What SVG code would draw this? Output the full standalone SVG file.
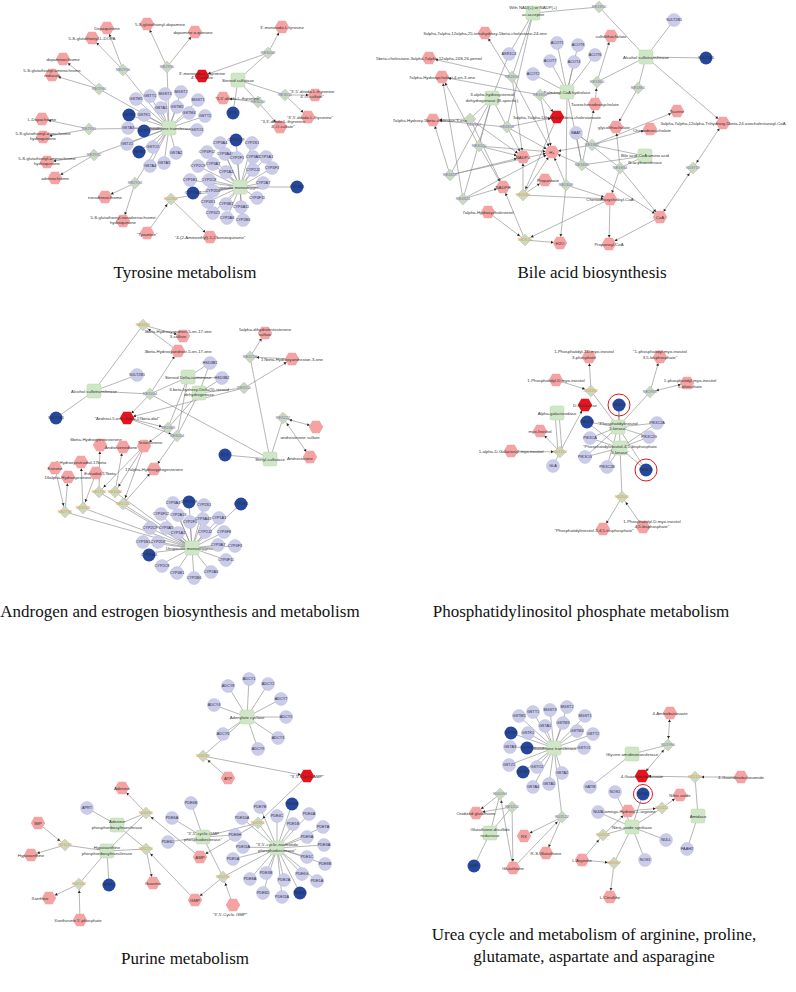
<svg xmlns="http://www.w3.org/2000/svg" xmlns:xlink="http://www.w3.org/1999/xlink" width="796" height="992" viewBox="0 0 796 992">
<style>
.m{fill:#f4a2a2}
.x{fill:#e8121f}
.g{fill:#cbcbea;stroke:#b3b3d6;stroke-width:.4}
.d{fill:#26489c}
.z{fill:#cfe7c6;stroke:#b8d4ab;stroke-width:.5}
.k{fill:#c9d8bf;stroke:#b0c0a6;stroke-width:.4}
.ring{fill:none;stroke:#e0161c;stroke-width:1}
text{font-family:"Liberation Sans",Arial,sans-serif}
.l{font-size:4.3px;fill:#333;text-anchor:middle}
.gl{font-size:3.8px;fill:#2a2a40;text-anchor:middle}
.r{font-size:4px;fill:#7d6fb8;text-anchor:middle}
.o{font-size:4px;fill:#e39a3b;text-anchor:middle}
.t{font-family:"Liberation Serif","Times New Roman",serif;font-size:17px;fill:#111;text-anchor:middle}
.e{stroke:#858585;stroke-width:.6;fill:none}
.a{marker-end:url(#ar)}
.b{marker-end:url(#ar);marker-start:url(#ar)}
</style>
<defs>
<path id="hx" d="M-3.6,-6.3H3.6L7.2,0L3.6,6.3H-3.6L-7.2,0Z"/>
<path id="dm" d="M0,-6L6,0L0,6L-6,0Z"/>
<rect id="sq" x="-7" y="-7" width="14" height="14" rx="2"/>
<circle id="ci" r="6.5"/>
<marker id="ar" viewBox="0 -2 12 4" refX="10.5" refY="0" markerWidth="12" markerHeight="4" markerUnits="userSpaceOnUse" orient="auto-start-reverse" overflow="visible">
<path d="M1.5,-1.5L4,0L1.5,1.5Z" fill="#222"/>
</marker>
</defs>
<rect width="796" height="992" fill="#fff"/>

<g id="connectors">
<!-- Tyrosine -->
<path class="e" d="M169,128L136,99M169,128L129,115M169,128L144,115M169,128L128,128M169,128L144,131M169,128L127,144M169,128L139,152M169,128L150,166M169,128L165,94M169,128L181,92M169,128L150,96M169,128L161,108M169,128L177,107M169,128L198,100M169,128L189,113M169,128L205,116M169,128L197,130M169,128L176,153M169,128L164,163M169,128L153,147M169,128L123,70M169,128L99,89M169,128L89,129M169,128L94,155M169,128L135,183M169,128L167,67"/>
<path class="e" d="M238,80L233,113M238,80L268,53M238,80L258,102M238,80L285,95"/>
<path class="e" d="M240,187L236,140M240,187L252,143M240,187L220,143M240,187L207,152M240,187L225,154M240,187L237,158M240,187L253,157M240,187L266,157M240,187L198,166M240,187L213,164M240,187L226,172M240,187L253,170M240,187L272,168M240,187L209,180M240,187L190,180M240,187L193,193M240,187L263,183M240,187L297,187M240,187L257,198M240,187L208,202M240,187L213,213M240,187L226,204M240,187L241,207M240,187L227,218M240,187L243,220M240,187L213,191M240,187L171,199"/>
<line class="e a" x1="123" y1="70" x2="107" y2="28"/><line class="e a" x1="123" y1="70" x2="92" y2="38"/>
<line class="e a" x1="167" y1="67" x2="147" y2="24"/><line class="e a" x1="167" y1="67" x2="195" y2="32"/>
<line class="e a" x1="99" y1="89" x2="63" y2="59"/><line class="e a" x1="99" y1="89" x2="52" y2="75"/>
<line class="e a" x1="89" y1="129" x2="42" y2="119"/><line class="e a" x1="89" y1="129" x2="43" y2="137"/>
<line class="e a" x1="94" y1="155" x2="47" y2="162"/><line class="e a" x1="94" y1="155" x2="55" y2="178"/>
<line class="e a" x1="135" y1="183" x2="105" y2="197"/><line class="e a" x1="135" y1="183" x2="123" y2="221"/>
<line class="e a" x1="268" y1="53" x2="282" y2="27"/><line class="e a" x1="268" y1="53" x2="202" y2="76"/>
<line class="e a" x1="258" y1="102" x2="223" y2="98"/><line class="e a" x1="258" y1="102" x2="280" y2="127"/>
<line class="e a" x1="285" y1="95" x2="315" y2="95"/><line class="e a" x1="285" y1="95" x2="308" y2="117"/>
<line class="e a" x1="147" y1="233" x2="171" y2="199"/><line class="e a" x1="171" y1="199" x2="210" y2="237"/>
<!-- Bile acid -->
<path class="e" d="M533,13L599,7M533,13L512,77M533,13L507,127M509,54L533,13M509,54L492,98M567,92L557,43M567,92L578,45M567,92L595,55M567,92L550,61M567,92L574,62M567,92L533,74M567,92L540,95M567,92L582,165M567,92L566,185M646,57L674,20M646,57L706,58M646,57L599,7M646,57L597,82M646,57L638,88M576,133L592,145M576,133L582,165M576,133L620,168M645,156L592,145M645,156L620,168M645,156L582,165M492,98L470,119M492,98L479,146M492,98L450,175M492,98L463,199M492,98L507,127"/>
<line class="e a" x1="646" y1="57" x2="723" y2="123"/>
<line class="e a" x1="597" y1="82" x2="611" y2="36"/><line class="e a" x1="595" y1="104" x2="597" y2="82"/>
<line class="e a" x1="638" y1="88" x2="616" y2="127"/>
<line class="e a" x1="592" y1="145" x2="677" y2="111"/><line class="e a" x1="592" y1="145" x2="650" y2="129"/><line class="e a" x1="592" y1="145" x2="552" y2="152"/>
<line class="e a" x1="620" y1="168" x2="610" y2="199"/><line class="e a" x1="620" y1="168" x2="660" y2="217"/><line class="e a" x1="620" y1="168" x2="616" y2="127"/>
<line class="e b" x1="693" y1="168" x2="723" y2="123"/><line class="e b" x1="693" y1="168" x2="660" y2="217"/>
<line class="e a" x1="582" y1="165" x2="595" y2="104"/><line class="e a" x1="582" y1="165" x2="552" y2="152"/><line class="e a" x1="582" y1="165" x2="660" y2="217"/>
<line class="e a" x1="566" y1="185" x2="552" y2="152"/><line class="e a" x1="566" y1="185" x2="610" y2="199"/><line class="e a" x1="566" y1="185" x2="560" y2="243"/>
<line class="e a" x1="512" y1="77" x2="485" y2="33"/><line class="e a" x1="512" y1="77" x2="429" y2="58"/><line class="e a" x1="512" y1="77" x2="523" y2="157"/><line class="e a" x1="512" y1="77" x2="552" y2="152"/>
<line class="e a" x1="540" y1="95" x2="442" y2="77"/><line class="e a" x1="540" y1="95" x2="557" y2="117"/><line class="e a" x1="540" y1="95" x2="552" y2="152"/>
<line class="e a" x1="470" y1="119" x2="433" y2="120"/><line class="e a" x1="470" y1="119" x2="523" y2="157"/><line class="e a" x1="470" y1="119" x2="503" y2="187"/>
<line class="e a" x1="507" y1="127" x2="557" y2="117"/><line class="e a" x1="507" y1="127" x2="552" y2="152"/><line class="e a" x1="507" y1="127" x2="523" y2="157"/><line class="e a" x1="507" y1="127" x2="433" y2="120"/>
<line class="e a" x1="479" y1="146" x2="523" y2="157"/><line class="e a" x1="479" y1="146" x2="552" y2="152"/><line class="e a" x1="479" y1="146" x2="503" y2="187"/><line class="e a" x1="479" y1="146" x2="442" y2="77"/>
<line class="e a" x1="450" y1="175" x2="433" y2="120"/><line class="e a" x1="450" y1="175" x2="523" y2="157"/><line class="e a" x1="450" y1="175" x2="552" y2="152"/>
<line class="e a" x1="463" y1="199" x2="442" y2="77"/><line class="e a" x1="463" y1="199" x2="503" y2="187"/><line class="e a" x1="463" y1="199" x2="552" y2="152"/>
<line class="e a" x1="523" y1="195" x2="545" y2="180"/><line class="e a" x1="523" y1="195" x2="523" y2="157"/><line class="e a" x1="523" y1="195" x2="610" y2="199"/><line class="e a" x1="523" y1="195" x2="552" y2="152"/><line class="e a" x1="557" y1="117" x2="523" y2="195"/>
<line class="e a" x1="525" y1="240" x2="560" y2="243"/><line class="e a" x1="525" y1="240" x2="503" y2="187"/><line class="e a" x1="488" y1="212" x2="525" y2="240"/><line class="e a" x1="610" y1="199" x2="525" y2="240"/>
<line class="e a" x1="610" y1="199" x2="609" y2="244"/><line class="e a" x1="660" y1="217" x2="609" y2="244"/>
<!-- Androgen -->
<path class="e" d="M94,391L137,375M94,391L56,418M94,391L143,325M94,391L150,394M188,377L210,363M188,377L222,378M199,393L210,363M199,393L222,378M188,377L168,428M188,377L177,436M199,393L168,428M199,393L177,436M199,393L244,388M188,377L150,394M270,459L225,455M270,459L250,357M270,459L283,418M270,459L150,394"/>
<path class="e" d="M192,548L173,503M192,548L189,502M192,548L204,505M192,548L241,504M192,548L161,514M192,548L178,515M192,548L190,522M192,548L203,519M192,548L219,518M192,548L166,528M192,548L178,533M192,548L205,532M192,548L224,532M192,548L158,542M192,548L218,545M192,548L150,528M192,548L143,542M192,548L149,553M192,548L160,565M192,548L176,572M192,548L194,578M192,548L211,572M192,548L226,560M192,548L234,546M192,548L99,492M192,548L115,492M192,548L123,504M192,548L65,512M192,548L83,508"/>
<line class="e a" x1="143" y1="325" x2="183" y2="336"/><line class="e a" x1="178" y1="351" x2="143" y2="325"/>
<line class="e a" x1="150" y1="394" x2="178" y2="351"/><line class="e a" x1="150" y1="394" x2="127" y2="418"/>
<line class="e a" x1="244" y1="388" x2="292" y2="359"/><line class="e a" x1="244" y1="388" x2="127" y2="418"/>
<line class="e a" x1="250" y1="357" x2="265" y2="333"/><line class="e a" x1="292" y1="359" x2="250" y2="357"/>
<line class="e b" x1="283" y1="418" x2="316" y2="427"/><line class="e b" x1="283" y1="418" x2="310" y2="457"/>
<line class="e a" x1="127" y1="418" x2="168" y2="428"/><line class="e a" x1="168" y1="428" x2="144" y2="446"/><line class="e a" x1="127" y1="418" x2="177" y2="436"/><line class="e a" x1="177" y1="436" x2="154" y2="469"/>
<line class="e a" x1="144" y1="446" x2="99" y2="492"/><line class="e a" x1="99" y1="492" x2="100" y2="445"/><line class="e a" x1="144" y1="446" x2="115" y2="492"/><line class="e a" x1="115" y1="492" x2="123" y2="447"/>
<line class="e a" x1="144" y1="446" x2="123" y2="504"/><line class="e a" x1="123" y1="504" x2="154" y2="469"/>
<line class="e a" x1="55" y1="468" x2="65" y2="512"/><line class="e a" x1="65" y1="512" x2="68" y2="477"/>
<line class="e a" x1="96" y1="473" x2="83" y2="508"/><line class="e a" x1="83" y1="508" x2="81" y2="462"/>
<!-- Phosphatidylinositol -->
<path class="e" d="M618,427L591,391M618,427L650,392M618,427L619,405M618,427L587,422M618,427L657,423M618,427L649,437M618,427L590,438M618,427L585,457M618,427L607,467M618,427L646,470M620,448L619,405M620,448L587,422M620,448L590,438M620,448L585,457M620,448L607,467M620,448L646,470M620,448L657,423M620,448L649,437M620,448L622,497M555,413L558,452M559,413L562,452M553,466L560,452"/>
<line class="e a" x1="556" y1="380" x2="591" y2="391"/><line class="e a" x1="591" y1="391" x2="589" y2="357"/>
<line class="e a" x1="650" y1="392" x2="660" y2="357"/><line class="e b" x1="650" y1="392" x2="687" y2="383"/>
<line class="e a" x1="511" y1="451" x2="560" y2="452"/><line class="e a" x1="560" y1="452" x2="540" y2="431"/><line class="e a" x1="560" y1="452" x2="585" y2="405"/>
<line class="e a" x1="622" y1="497" x2="603" y2="529"/><line class="e a" x1="643" y1="527" x2="622" y2="497"/>
<!-- Purine -->
<path class="e" d="M247,717L249,679M247,717L268,684M247,717L228,686M247,717L281,699M247,717L214,705M247,717L286,717M247,717L223,734M247,717L278,738M247,717L258,749M247,717L203,756"/>
<path class="e" d="M277,848L292,804M277,848L260,807M277,848L309,814M277,848L242,818M277,848L277,816M277,848L293,824M277,848L323,827M277,848L307,837M277,848L243,847M277,848L324,845M277,848L307,857M277,848L233,859M277,848L325,864M277,848L250,879M277,848L266,873M277,848L284,880M277,848L302,874M277,848L317,881M277,848L263,893M277,848L282,897M277,848L300,893M277,848L258,823M277,848L223,877M203,837L172,818M203,837L191,803M203,837L168,842M203,837L235,835M203,837L258,823M203,837L223,877"/>
<path class="e" d="M117,825L87,808M117,825L146,813M117,825L146,849M107,851L65,845M107,851L146,849M107,851L79,884M107,851L109,885M107,851L146,813"/>
<line class="e a" x1="228" y1="778" x2="203" y2="756"/><line class="e a" x1="203" y1="756" x2="307" y2="776"/>
<line class="e a" x1="307" y1="776" x2="258" y2="823"/><line class="e a" x1="258" y1="823" x2="200" y2="857"/>
<line class="e a" x1="233" y1="905" x2="223" y2="877"/><line class="e a" x1="223" y1="877" x2="195" y2="900"/>
<line class="e a" x1="200" y1="857" x2="146" y2="813"/><line class="e a" x1="146" y1="813" x2="122" y2="788"/>
<line class="e a" x1="38" y1="823" x2="65" y2="845"/><line class="e a" x1="65" y1="845" x2="31" y2="855"/>
<line class="e a" x1="195" y1="900" x2="146" y2="849"/><line class="e a" x1="146" y1="849" x2="153" y2="883"/>
<line class="e a" x1="79" y1="884" x2="49" y2="898"/><line class="e a" x1="80" y1="920" x2="79" y2="884"/>
<!-- Urea -->
<path class="e" d="M554,748L519,716M554,748L533,712M554,748L550,710M554,748L567,707M554,748L585,716M554,748L545,726M554,748L563,723M554,748L511,733M554,748L528,733M554,748L577,731M554,748L593,734M554,748L510,747M554,748L527,748M554,748L584,748M554,748L509,765M554,748L537,767M554,748L523,772M554,748L562,773M554,748L549,784M554,748L533,787M554,748L562,817M490,833L500,794M490,833L512,807M490,833L474,866"/>
<path class="e" d="M590,787L632,754M632,754L668,745M698,816L695,777M698,816L687,849M632,827L615,792M632,827L643,794M632,827L598,812M632,827L666,840M632,827L645,860M632,827L662,808M632,827L603,835M632,827L614,863"/>
<line class="e a" x1="500" y1="794" x2="476" y2="813"/><line class="e a" x1="513" y1="868" x2="500" y2="794"/>
<line class="e a" x1="512" y1="807" x2="476" y2="813"/><line class="e a" x1="512" y1="807" x2="513" y2="868"/>
<line class="e a" x1="562" y1="817" x2="524" y2="836"/><line class="e a" x1="562" y1="817" x2="546" y2="853"/><line class="e a" x1="513" y1="868" x2="562" y2="817"/>
<line class="e b" x1="668" y1="745" x2="670" y2="713"/><line class="e b" x1="668" y1="745" x2="642" y2="776"/>
<line class="e a" x1="741" y1="777" x2="695" y2="777"/><line class="e a" x1="695" y1="777" x2="642" y2="776"/>
<line class="e a" x1="582" y1="860" x2="603" y2="835"/><line class="e a" x1="603" y1="835" x2="628" y2="811"/>
<line class="e a" x1="628" y1="811" x2="662" y2="808"/><line class="e a" x1="662" y1="808" x2="680" y2="795"/>
<line class="e a" x1="582" y1="860" x2="614" y2="863"/><line class="e a" x1="614" y1="863" x2="610" y2="897"/>
</g>

<!-- ===== Tyrosine metabolism nodes ===== -->
<g id="tyr-gst"><use href="#sq" class="z" x="169" y="128"/><text class="l" x="169" y="129.5">Glutathione transferase</text></g>
<g id="tyr-sts-enz"><use href="#sq" class="z" x="238" y="80"/><text class="l" x="238" y="81.5">Steroid sulfatase</text></g>
<g id="tyr-mono"><use href="#sq" class="z" x="240" y="187"/><text class="l" x="240" y="188.5">Unspecific monooxygenase</text></g>
<g id="tyr-genes">
<g id="tg1"><use href="#ci" class="g" x="136" y="99"/><text class="gl" x="136" y="100.3">GSTM5</text></g>
<g id="tg2"><use href="#ci" class="d" x="129" y="115"/><text class="gl" x="129" y="116.3">GSTM1</text></g>
<g id="tg3"><use href="#ci" class="g" x="144" y="115"/><text class="gl" x="144" y="116.3">GSTK1</text></g>
<g id="tg4"><use href="#ci" class="g" x="128" y="128"/><text class="gl" x="128" y="129.3">GSTA3</text></g>
<g id="tg5"><use href="#ci" class="d" x="144" y="131"/><text class="gl" x="144" y="132.3">GSTP1</text></g>
<g id="tg6"><use href="#ci" class="g" x="127" y="144"/><text class="gl" x="127" y="145.3">GSTZ1</text></g>
<g id="tg7"><use href="#ci" class="d" x="139" y="152"/><text class="gl" x="139" y="153.3">GSTM3</text></g>
<g id="tg8"><use href="#ci" class="g" x="150" y="166"/><text class="gl" x="150" y="167.3">GSTA4</text></g>
<g id="tg9"><use href="#ci" class="g" x="165" y="94"/><text class="gl" x="165" y="95.3">MGST3</text></g>
<g id="tg10"><use href="#ci" class="g" x="181" y="92"/><text class="gl" x="181" y="93.3">MGST2</text></g>
<g id="tg11"><use href="#ci" class="g" x="150" y="96"/><text class="gl" x="150" y="97.3">GSTT1</text></g>
<g id="tg12"><use href="#ci" class="g" x="161" y="108"/><text class="gl" x="161" y="109.3">GSTA1</text></g>
<g id="tg13"><use href="#ci" class="g" x="177" y="107"/><text class="gl" x="177" y="108.3">GSTM2</text></g>
<g id="tg14"><use href="#ci" class="g" x="198" y="100"/><text class="gl" x="198" y="101.3">MGST1</text></g>
<g id="tg15"><use href="#ci" class="g" x="189" y="113"/><text class="gl" x="189" y="114.3">GSTM4</text></g>
<g id="tg16"><use href="#ci" class="g" x="205" y="116"/><text class="gl" x="205" y="117.3">GSTT2</text></g>
<g id="tg17"><use href="#ci" class="g" x="197" y="130"/><text class="gl" x="197" y="131.3">GSTO1</text></g>
<g id="tg18"><use href="#ci" class="g" x="176" y="153"/><text class="gl" x="176" y="154.3">GSTA2</text></g>
<g id="tg19"><use href="#ci" class="g" x="164" y="163"/><text class="gl" x="164" y="164.3">GSTA5</text></g>
<g id="tg20"><use href="#ci" class="g" x="153" y="147"/><text class="gl" x="153" y="148.3">GSTO2</text></g>
<g id="tg21"><use href="#ci" class="d" x="233" y="113"/><text class="gl" x="233" y="114.3">STS</text></g>
<g id="tc1"><use href="#ci" class="d" x="236" y="140"/><text class="gl" x="236" y="141.3">CYP2C19</text></g>
<g id="tc2"><use href="#ci" class="g" x="252" y="143"/><text class="gl" x="252" y="144.3">CYP2S1</text></g>
<g id="tc3"><use href="#ci" class="g" x="220" y="143"/><text class="gl" x="220" y="144.3">CYP3A4</text></g>
<g id="tc4"><use href="#ci" class="g" x="207" y="152"/><text class="gl" x="207" y="153.3">CYP4F12</text></g>
<g id="tc5"><use href="#ci" class="g" x="225" y="154"/><text class="gl" x="225" y="155.3">CYP3A43</text></g>
<g id="tc6"><use href="#ci" class="g" x="237" y="158"/><text class="gl" x="237" y="159.3">CYP2F1</text></g>
<g id="tc7"><use href="#ci" class="g" x="253" y="157"/><text class="gl" x="253" y="158.3">CYP3A5</text></g>
<g id="tc8"><use href="#ci" class="g" x="266" y="157"/><text class="gl" x="266" y="158.3">CYP1A1</text></g>
<g id="tc9"><use href="#ci" class="g" x="198" y="166"/><text class="gl" x="198" y="167.3">CYP2C9</text></g>
<g id="tc10"><use href="#ci" class="g" x="213" y="164"/><text class="gl" x="213" y="165.3">CYP3A7</text></g>
<g id="tc11"><use href="#ci" class="g" x="226" y="172"/><text class="gl" x="226" y="173.3">CYP1A2</text></g>
<g id="tc12"><use href="#ci" class="g" x="253" y="170"/><text class="gl" x="253" y="171.3">CYP2J2</text></g>
<g id="tc13"><use href="#ci" class="g" x="272" y="168"/><text class="gl" x="272" y="169.3">CYP4F3</text></g>
<g id="tc14"><use href="#ci" class="g" x="209" y="180"/><text class="gl" x="209" y="181.3">CYP2C8</text></g>
<g id="tc15"><use href="#ci" class="g" x="190" y="180"/><text class="gl" x="190" y="181.3">CYP1B1</text></g>
<g id="tc16"><use href="#ci" class="d" x="193" y="193"/><text class="gl" x="193" y="194.3">CYP19A1</text></g>
<g id="tc17"><use href="#ci" class="g" x="263" y="183"/><text class="gl" x="263" y="184.3">CYP2A7</text></g>
<g id="tc18"><use href="#ci" class="d" x="297" y="187"/><text class="gl" x="297" y="188.3">CYP2E1</text></g>
<g id="tc19"><use href="#ci" class="g" x="257" y="198"/><text class="gl" x="257" y="199.3">CYP4F11</text></g>
<g id="tc20"><use href="#ci" class="g" x="208" y="202"/><text class="gl" x="208" y="203.3">CYP4X1</text></g>
<g id="tc21"><use href="#ci" class="g" x="213" y="213"/><text class="gl" x="213" y="214.3">CYP4Z1</text></g>
<g id="tc22"><use href="#ci" class="g" x="226" y="204"/><text class="gl" x="226" y="205.3">CYP4B1</text></g>
<g id="tc23"><use href="#ci" class="g" x="241" y="207"/><text class="gl" x="241" y="208.3">CYP4A11</text></g>
<g id="tc24"><use href="#ci" class="g" x="227" y="218"/><text class="gl" x="227" y="219.3">CYP2A6</text></g>
<g id="tc25"><use href="#ci" class="g" x="243" y="220"/><text class="gl" x="243" y="221.3">CYP2B6</text></g>
<g id="tc26"><use href="#ci" class="g" x="213" y="191"/><text class="gl" x="213" y="192.3">CYP2D6</text></g>
</g>
<g id="tyr-rx">
<g id="tr1"><use href="#dm" class="k" x="123" y="70"/><text class="r" x="123" y="71.4">RE2936</text></g>
<g id="tr2"><use href="#dm" class="k" x="167" y="67"/><text class="r" x="167" y="68.4">RE2935</text></g>
<g id="tr3"><use href="#dm" class="k" x="99" y="89"/><text class="r" x="99" y="90.4">RE2930</text></g>
<g id="tr4"><use href="#dm" class="k" x="89" y="129"/><text class="r" x="89" y="130.4">RE2931</text></g>
<g id="tr5"><use href="#dm" class="k" x="94" y="155"/><text class="r" x="94" y="156.4">RE2932</text></g>
<g id="tr6"><use href="#dm" class="k" x="135" y="183"/><text class="r" x="135" y="184.4">RE2933</text></g>
<g id="tr7"><use href="#dm" class="k" x="268" y="53"/><text class="r" x="268" y="54.4">RE3008</text></g>
<g id="tr8"><use href="#dm" class="k" x="258" y="102"/><text class="r" x="258" y="103.4">RE3010</text></g>
<g id="tr9"><use href="#dm" class="k" x="285" y="95"/><text class="r" x="285" y="96.4">RE3011</text></g>
<g id="tr10"><use href="#dm" class="k" x="171" y="199"/><text class="o" x="171" y="200.4">R02382</text></g>
</g>
<g id="tyr-met">
<g id="tm1"><use href="#hx" class="m" x="107" y="28"/><text class="l" x="107" y="29.5">Dopaquinone</text></g>
<g id="tm2"><use href="#hx" class="m" x="92" y="38"/><text class="l" x="92" y="39.5">5-S-glutathionyl-L-DOPA</text></g>
<g id="tm3"><use href="#hx" class="m" x="147" y="24"/><text class="l" x="160" y="25.5">5-S-glutathionyl-dopamine</text></g>
<g id="tm4"><use href="#hx" class="m" x="195" y="32"/><text class="l" x="193" y="33.5">dopamine o-quinone</text></g>
<g id="tm5"><use href="#hx" class="m" x="63" y="59"/><text class="l" x="63" y="60.5">dopaminochrome</text></g>
<g id="tm6"><use href="#hx" class="m" x="52" y="75"/><text class="l" x="52" y="72">5-S-glutathionyl-aminochrome<tspan x="52" dy="5.3">reduced</tspan></text></g>
<g id="tm7"><use href="#hx" class="m" x="42" y="119"/><text class="l" x="42" y="120.5">L-Dopachrome</text></g>
<g id="tm8"><use href="#hx" class="m" x="43" y="137"/><text class="l" x="43" y="135">5-S-glutathionyl-dopachrome<tspan x="43" dy="5.3">hydroquinone</tspan></text></g>
<g id="tm9"><use href="#hx" class="m" x="47" y="162"/><text class="l" x="47" y="160">5-S-glutathionyl-aminochrome<tspan x="47" dy="5.3">hydroquinone</tspan></text></g>
<g id="tm10"><use href="#hx" class="m" x="55" y="178"/><text class="l" x="55" y="179.5">adrenochrome</text></g>
<g id="tm11"><use href="#hx" class="m" x="105" y="197"/><text class="l" x="105" y="198.5">noradrenochrome</text></g>
<g id="tm12"><use href="#hx" class="m" x="123" y="221"/><text class="l" x="123" y="219">5-S-glutathionyl-noradrenochrome<tspan x="123" dy="5.3">hydroquinone</tspan></text></g>
<g id="tm13"><use href="#hx" class="m" x="282" y="27"/><text class="l" x="282" y="28.5">3'-monoiodo-L-tyrosine</text></g>
<g id="tm14"><use href="#hx" class="x" x="202" y="76"/><text class="l" x="202" y="74.5">3'-monoiodo-L-thyronine<tspan x="202" dy="4.8">4'-O-sulfate</tspan></text></g>
<g id="tm15"><use href="#hx" class="m" x="223" y="98"/><text class="l" x="238" y="99.5">"3,3'-diiodo-L-thyronine"</text></g>
<g id="tm16"><use href="#hx" class="m" x="308" y="117"/><text class="l" x="310" y="118.5">"3',5'-diiodo-L-thyronine"</text></g>
<g id="tm17"><use href="#hx" class="m" x="280" y="127"/><text class="l" x="283" y="123">"3,3'-diiodo-L-thyronine<tspan x="283" dy="5">4'-O-sulfate"</tspan></text></g>
<g id="tm18"><use href="#hx" class="m" x="315" y="95"/><text class="l" x="312" y="93">"3',5'-diiodo-L-thyronine<tspan x="312" dy="5">4'-O-sulfate"</tspan></text></g>
<g id="tm19"><use href="#hx" class="m" x="147" y="233"/><text class="l" x="147" y="236">"Tyramine"</text></g>
<g id="tm20"><use href="#hx" class="m" x="210" y="237"/><text class="l" x="210" y="239">"4-(2-Aminoethyl)-1,2-benzoquinone"</text></g>
</g>

<!-- ===== Bile acid biosynthesis nodes ===== -->
<g id="bile-enz">
<g id="be1"><use href="#sq" class="z" x="533" y="13"/><text class="l" x="533" y="9">With NAD(+) or NADP(+)<tspan x="533" dy="6.5">as acceptor</tspan></text></g>
<g id="be2"><use href="#sq" class="z" x="492" y="98"/><text class="l" x="492" y="95.5">3-alpha-hydroxysteroid<tspan x="492" dy="6">dehydrogenase (B-specific)</tspan></text></g>
<g id="be3"><use href="#sq" class="z" x="567" y="92"/><text class="l" x="567" y="93.5">Palmitoyl-CoA hydrolase</text></g>
<g id="be4"><use href="#sq" class="z" x="646" y="57"/><text class="l" x="646" y="58.5">Alcohol sulfotransferase</text></g>
<g id="be5"><use href="#sq" class="z" x="645" y="156"/><text class="l" x="645" y="157">Bile acid-CoA:amino acid<tspan x="645" dy="7">N-acyltransferase</tspan></text></g>
</g>
<g id="bile-genes">
<g id="bg1"><use href="#ci" class="g" x="509" y="54"/><text class="gl" x="509" y="55.3">AKR1C4</text></g>
<g id="bg2"><use href="#ci" class="g" x="557" y="43"/><text class="gl" x="557" y="44.3">ACOT1</text></g>
<g id="bg3"><use href="#ci" class="g" x="578" y="45"/><text class="gl" x="578" y="46.3">ACOT8</text></g>
<g id="bg4"><use href="#ci" class="g" x="595" y="55"/><text class="gl" x="595" y="56.3">ACOT6</text></g>
<g id="bg5"><use href="#ci" class="g" x="550" y="61"/><text class="gl" x="550" y="62.3">ACOT7</text></g>
<g id="bg6"><use href="#ci" class="g" x="574" y="62"/><text class="gl" x="574" y="63.3">ACOT4</text></g>
<g id="bg7"><use href="#ci" class="g" x="533" y="74"/><text class="gl" x="533" y="75.3">ACOT2</text></g>
<g id="bg8"><use href="#ci" class="g" x="674" y="20"/><text class="gl" x="674" y="21.3">SULT2B1</text></g>
<g id="bg9"><use href="#ci" class="d" x="706" y="58"/><text class="gl" x="706" y="59.3">SULT2A1</text></g>
<g id="bg10"><use href="#ci" class="g" x="576" y="133"/><text class="gl" x="576" y="134.3">BAAT</text></g>
</g>
<g id="bile-rx">
<g id="br1"><use href="#dm" class="k" x="599" y="7"/><text class="r" x="599" y="8.4">RE1850</text></g>
<g id="br2"><use href="#dm" class="k" x="512" y="77"/><text class="r" x="512" y="78.4">RE2690</text></g>
<g id="br3"><use href="#dm" class="k" x="540" y="95"/><text class="r" x="540" y="96.4">RE1810</text></g>
<g id="br4"><use href="#dm" class="k" x="470" y="119"/><text class="r" x="474" y="126">RE4817</text></g>
<g id="br5"><use href="#dm" class="k" x="507" y="127"/><text class="r" x="507" y="128.4">RE4818</text></g>
<g id="br6"><use href="#dm" class="k" x="479" y="146"/><text class="r" x="479" y="147.4">RE4020</text></g>
<g id="br7"><use href="#dm" class="k" x="450" y="175"/><text class="r" x="450" y="176.4">RE4819</text></g>
<g id="br8"><use href="#dm" class="k" x="523" y="195"/><text class="o" x="523" y="196.4">RE2630</text></g>
<g id="br9"><use href="#dm" class="k" x="463" y="199"/><text class="r" x="463" y="200.4">RE4824</text></g>
<g id="br10"><use href="#dm" class="k" x="525" y="240"/><text class="o" x="525" y="241.4">RE2620</text></g>
<g id="br11"><use href="#dm" class="k" x="597" y="82"/><text class="r" x="597" y="83.4">RE1860</text></g>
<g id="br12"><use href="#dm" class="k" x="638" y="88"/><text class="r" x="638" y="89.4">RE1861</text></g>
<g id="br13"><use href="#dm" class="k" x="592" y="145"/><text class="r" x="592" y="146.4">RE1862</text></g>
<g id="br14"><use href="#dm" class="k" x="582" y="165"/><text class="r" x="582" y="166.4">RE1835</text></g>
<g id="br15"><use href="#dm" class="k" x="620" y="168"/><text class="r" x="620" y="169.4">RE1834</text></g>
<g id="br16"><use href="#dm" class="k" x="693" y="168"/><text class="r" x="693" y="169.4">R03719</text></g>
<g id="br17"><use href="#dm" class="k" x="566" y="185"/><text class="r" x="566" y="186.4">RE2648</text></g>
</g>
<g id="bile-met">
<g id="bm1"><use href="#hx" class="m" x="485" y="33"/><text class="l" x="485" y="34.5">3alpha,7alpha,12alpha,25-tetrahydroxy-5beta-cholestane-24-one</text></g>
<g id="bm2"><use href="#hx" class="m" x="429" y="58"/><text class="l" x="429" y="59.5">5beta-cholestane-3alpha,7alpha,12alpha,24S,26-pentol</text></g>
<g id="bm3"><use href="#hx" class="m" x="442" y="77"/><text class="l" x="442" y="78.5">7alpha-Hydroxycholest-4-en-3-one</text></g>
<g id="bm4"><use href="#hx" class="x" x="557" y="117"/><text class="l" x="557" y="118.5">3alpha,7alpha-Dihydroxy-5beta-cholestanoate</text></g>
<g id="bm5"><use href="#hx" class="m" x="433" y="120"/><text class="l" x="430" y="121.5">7alpha-Hydroxy-5beta-cholestan-3-one</text></g>
<g id="bm6"><use href="#hx" class="m" x="523" y="157"/><text class="l" x="523" y="158.5">NADP+</text></g>
<g id="bm7"><use href="#hx" class="m" x="552" y="152"/><text class="l" x="552" y="153.5">H+</text></g>
<g id="bm8"><use href="#hx" class="m" x="503" y="187"/><text class="l" x="503" y="188.5">NADPH</text></g>
<g id="bm9"><use href="#hx" class="m" x="545" y="180"/><text class="l" x="548" y="181.5">Propanoate</text></g>
<g id="bm10"><use href="#hx" class="m" x="488" y="212"/><text class="l" x="488" y="213.5">7alpha-Hydroxycholesterol</text></g>
<g id="bm11"><use href="#hx" class="m" x="560" y="243"/><text class="l" x="560" y="244.5">H2O</text></g>
<g id="bm12"><use href="#hx" class="m" x="609" y="244"/><text class="l" x="609" y="245.5">Propanoyl-CoA</text></g>
<g id="bm13"><use href="#hx" class="m" x="611" y="36"/><text class="l" x="611" y="37.5">sulfolithocholate</text></g>
<g id="bm14"><use href="#hx" class="m" x="595" y="104"/><text class="l" x="595" y="105.5">Taurochenodeoxycholate</text></g>
<g id="bm15"><use href="#hx" class="m" x="677" y="111"/><text class="l" x="677" y="112.5">Taurine</text></g>
<g id="bm16"><use href="#hx" class="m" x="723" y="123"/><text class="l" x="723" y="124.5">3alpha,7alpha,12alpha-Trihydroxy-5beta-24-oxocholestanoyl-CoA</text></g>
<g id="bm17"><use href="#hx" class="m" x="616" y="127"/><text class="l" x="614" y="128.5">glycolithocholate</text></g>
<g id="bm18"><use href="#hx" class="m" x="650" y="129"/><text class="l" x="652" y="132">Chenodeoxycholate</text></g>
<g id="bm19"><use href="#hx" class="m" x="610" y="199"/><text class="l" x="610" y="200.5">Chenodeoxycholoyl-CoA</text></g>
<g id="bm20"><use href="#hx" class="m" x="660" y="217"/><text class="l" x="660" y="218.5">CoA</text></g>
</g>

<!-- ===== Androgen nodes ===== -->
<g id="and-enz">
<g id="ae1"><use href="#sq" class="z" x="94" y="391"/><text class="l" x="94" y="392.5">Alcohol sulfotransferase</text></g>
<g id="ae2"><use href="#sq" class="z" x="188" y="377"/><text class="l" x="188" y="378.5">Steroid Delta-isomerase</text></g>
<g id="ae3"><use href="#sq" class="z" x="199" y="393"/><text class="l" x="199" y="391">3-beta-hydroxy-Delta(5)-steroid<tspan x="199" dy="5">dehydrogenase</tspan></text></g>
<g id="ae4"><use href="#sq" class="z" x="270" y="459"/><text class="l" x="270" y="460.5">Steryl-sulfatase</text></g>
<g id="ae5"><use href="#sq" class="z" x="192" y="548"/><text class="l" x="192" y="549.5">Unspecific monooxygenase</text></g>
</g>
<g id="and-genes">
<g id="ag1"><use href="#ci" class="g" x="137" y="375"/><text class="gl" x="137" y="376.3">SULT2B1</text></g>
<g id="ag2"><use href="#ci" class="d" x="56" y="418"/><text class="gl" x="56" y="419.3">SULT2A1</text></g>
<g id="ag3"><use href="#ci" class="g" x="210" y="363"/><text class="gl" x="210" y="364.3">HSD3B1</text></g>
<g id="ag4"><use href="#ci" class="g" x="222" y="378"/><text class="gl" x="222" y="379.3">HSD3B2</text></g>
<g id="ag5"><use href="#ci" class="d" x="225" y="455"/><text class="gl" x="225" y="456.3">STS</text></g>
<g id="ac1"><use href="#ci" class="g" x="173" y="503"/><text class="gl" x="173" y="504.3">CYP3A4</text></g>
<g id="ac2"><use href="#ci" class="d" x="189" y="502"/><text class="gl" x="189" y="503.3">CYP2C19</text></g>
<g id="ac3"><use href="#ci" class="g" x="204" y="505"/><text class="gl" x="204" y="506.3">CYP2S1</text></g>
<g id="ac4"><use href="#ci" class="d" x="241" y="504"/><text class="gl" x="241" y="505.3">CYP2E1</text></g>
<g id="ac5"><use href="#ci" class="g" x="161" y="514"/><text class="gl" x="161" y="515.3">CYP4F12</text></g>
<g id="ac6"><use href="#ci" class="g" x="178" y="515"/><text class="gl" x="178" y="516.3">CYP2A13</text></g>
<g id="ac7"><use href="#ci" class="g" x="190" y="522"/><text class="gl" x="190" y="523.3">CYP2F1</text></g>
<g id="ac8"><use href="#ci" class="g" x="203" y="519"/><text class="gl" x="203" y="520.3">CYP3A43</text></g>
<g id="ac9"><use href="#ci" class="g" x="219" y="518"/><text class="gl" x="219" y="519.3">CYP1A1</text></g>
<g id="ac10"><use href="#ci" class="g" x="166" y="528"/><text class="gl" x="166" y="529.3">CYP3A5</text></g>
<g id="ac11"><use href="#ci" class="g" x="178" y="533"/><text class="gl" x="178" y="534.3">CYP1A2</text></g>
<g id="ac12"><use href="#ci" class="g" x="205" y="532"/><text class="gl" x="205" y="533.3">CYP2J2</text></g>
<g id="ac13"><use href="#ci" class="g" x="224" y="532"/><text class="gl" x="224" y="533.3">CYP4F8</text></g>
<g id="ac14"><use href="#ci" class="g" x="158" y="542"/><text class="gl" x="158" y="543.3">CYP2D6</text></g>
<g id="ac15"><use href="#ci" class="g" x="218" y="545"/><text class="gl" x="218" y="546.3">CYP3A7</text></g>
<g id="ac16"><use href="#ci" class="g" x="150" y="528"/><text class="gl" x="150" y="529.3">CYP2C9</text></g>
<g id="ac17"><use href="#ci" class="g" x="143" y="542"/><text class="gl" x="143" y="543.3">CYP1B1</text></g>
<g id="ac18"><use href="#ci" class="d" x="149" y="555"/><text class="gl" x="149" y="556.3">CYP19A1</text></g>
<g id="ac19"><use href="#ci" class="g" x="162" y="566"/><text class="gl" x="162" y="567.3">CYP2C8</text></g>
<g id="ac20"><use href="#ci" class="g" x="177" y="573"/><text class="gl" x="177" y="574.3">CYP4B1</text></g>
<g id="ac21"><use href="#ci" class="g" x="194" y="578"/><text class="gl" x="194" y="579.3">CYP2B6</text></g>
<g id="ac22"><use href="#ci" class="g" x="211" y="572"/><text class="gl" x="211" y="573.3">CYP2A6</text></g>
<g id="ac23"><use href="#ci" class="g" x="226" y="560"/><text class="gl" x="226" y="561.3">CYP4F11</text></g>
<g id="ac24"><use href="#ci" class="g" x="235" y="546"/><text class="gl" x="235" y="547.3">CYP4F3</text></g>
</g>
<g id="and-rx">
<g id="ar1"><use href="#dm" class="k" x="143" y="325"/><text class="o" x="143" y="326.4">RE3406</text></g>
<g id="ar2"><use href="#dm" class="k" x="150" y="394"/><text class="r" x="150" y="395.4">RE3404</text></g>
<g id="ar3"><use href="#dm" class="k" x="250" y="357"/><text class="r" x="250" y="358.4">RE3218</text></g>
<g id="ar4"><use href="#dm" class="k" x="244" y="388"/><text class="r" x="244" y="389.4">RE3111</text></g>
<g id="ar5"><use href="#dm" class="k" x="168" y="428"/><text class="r" x="168" y="429.4">RE2469</text></g>
<g id="ar6"><use href="#dm" class="k" x="177" y="436"/><text class="r" x="177" y="437.4">RE3004</text></g>
<g id="ar7"><use href="#dm" class="k" x="283" y="418"/><text class="r" x="283" y="419.4">RE3222</text></g>
<g id="ar8"><use href="#dm" class="k" x="99" y="492"/><text class="o" x="99" y="493.4">RE1720</text></g>
<g id="ar9"><use href="#dm" class="k" x="115" y="492"/><text class="o" x="115" y="493.4">RE3006</text></g>
<g id="ar10"><use href="#dm" class="k" x="123" y="504"/><text class="o" x="123" y="505.4">RE1725</text></g>
<g id="ar11"><use href="#dm" class="k" x="65" y="512"/><text class="o" x="65" y="513.4">RE2736</text></g>
<g id="ar12"><use href="#dm" class="k" x="83" y="508"/><text class="o" x="83" y="509.4">RE3013</text></g>
</g>
<g id="and-met">
<g id="am1"><use href="#hx" class="m" x="183" y="336"/><text class="l" x="178" y="333">3beta-Hydroxyandrost-5-en-17-one<tspan x="178" dy="5">3-sulfate</tspan></text></g>
<g id="am2"><use href="#hx" class="m" x="178" y="351"/><text class="l" x="178" y="352.5">3beta-Hydroxyandrost-5-en-17-one</text></g>
<g id="am3"><use href="#hx" class="m" x="265" y="333"/><text class="l" x="265" y="331">5alpha-dihydrotestosterone<tspan x="265" dy="5">sulfate</tspan></text></g>
<g id="am4"><use href="#hx" class="m" x="292" y="359"/><text class="l" x="292" y="360.5">17beta-Hydroxyandrostan-3-one</text></g>
<g id="am5"><use href="#hx" class="x" x="127" y="418"/><text class="l" x="127" y="419.5">"Androst-5-ene-3beta,17beta-diol"</text></g>
<g id="am6"><use href="#hx" class="m" x="100" y="445"/><text class="l" x="96" y="441">6beta-Hydroxytestosterone</text></g>
<g id="am7"><use href="#hx" class="m" x="123" y="447"/><text class="l" x="121" y="448.5">Androstenedione</text></g>
<g id="am8"><use href="#hx" class="m" x="144" y="446"/><text class="l" x="150" y="444">Testosterone</text></g>
<g id="am9"><use href="#hx" class="m" x="81" y="462"/><text class="l" x="81" y="463.5">2-Hydroxyestradiol-17beta</text></g>
<g id="am10"><use href="#hx" class="m" x="55" y="468"/><text class="l" x="55" y="469.5">Estrone</text></g>
<g id="am11"><use href="#hx" class="m" x="68" y="477"/><text class="l" x="68" y="478.5">16alpha-Hydroxyestrone</text></g>
<g id="am12"><use href="#hx" class="m" x="96" y="473"/><text class="l" x="100" y="474.5">Estradiol-17beta</text></g>
<g id="am13"><use href="#hx" class="m" x="154" y="469"/><text class="l" x="154" y="470.5">17alpha-Hydroxyprogesterone</text></g>
<g id="am14"><use href="#hx" class="m" x="316" y="427"/><text class="l" x="300" y="439">androsterone sulfate</text></g>
<g id="am15"><use href="#hx" class="m" x="310" y="457"/><text class="l" x="300" y="459.5">Androsterone</text></g>
</g>

<!-- ===== Phosphatidylinositol nodes ===== -->
<g id="pi-enz">
<g id="pe1"><use href="#sq" class="z" x="557" y="413"/><text class="l" x="557" y="414.5">Alpha-galactosidase</text></g>
<g id="pe2"><use href="#sq" class="z" x="618" y="427"/><text class="l" x="618" y="425">"Phosphatidylinositol<tspan x="618" dy="5">3-kinase"</tspan></text></g>
<g id="pe3"><use href="#sq" class="z" x="620" y="448"/><text class="l" x="620" y="448">"Phosphatidylinositol-4,5-bisphosphate<tspan x="620" dy="5.5">3-kinase"</tspan></text></g>
</g>
<g id="pi-genes">
<g id="pg1"><circle cx="619" cy="405" r="11" class="ring"/><use href="#ci" class="d" x="619" y="405"/><text class="gl" x="619" y="406.3">PIK3C3</text></g>
<g id="pg2"><use href="#ci" class="d" x="587" y="422"/><text class="gl" x="587" y="423.3">PIK3CB</text></g>
<g id="pg3"><use href="#ci" class="g" x="657" y="423"/><text class="gl" x="657" y="424.3">PIK3C2A</text></g>
<g id="pg4"><use href="#ci" class="g" x="649" y="437"/><text class="gl" x="649" y="438.3">PIK3C2G</text></g>
<g id="pg5"><use href="#ci" class="g" x="590" y="438"/><text class="gl" x="590" y="439.3">PIK3CA</text></g>
<g id="pg6"><use href="#ci" class="g" x="585" y="457"/><text class="gl" x="585" y="458.3">PIK3CG</text></g>
<g id="pg7"><use href="#ci" class="g" x="607" y="467"/><text class="gl" x="607" y="468.3">PIK3C2B</text></g>
<g id="pg8"><circle cx="646" cy="470" r="11" class="ring"/><use href="#ci" class="d" x="646" y="470"/><text class="gl" x="646" y="471.3">PIK3CD</text></g>
<g id="pg9"><use href="#ci" class="g" x="553" y="466"/><text class="gl" x="553" y="467.3">GLA</text></g>
</g>
<g id="pi-rx">
<g id="pr1"><use href="#dm" class="k" x="591" y="391"/><text class="o" x="591" y="392.4">R03362</text></g>
<g id="pr2"><use href="#dm" class="k" x="650" y="392"/><text class="r" x="650" y="393.4">RE2959</text></g>
<g id="pr3"><use href="#dm" class="k" x="560" y="452"/><text class="o" x="560" y="453.4">R01194</text></g>
<g id="pr4"><use href="#dm" class="k" x="622" y="497"/><text class="o" x="622" y="498.4">R04545</text></g>
</g>
<g id="pi-met">
<g id="pm1"><use href="#hx" class="m" x="589" y="357"/><text class="l" x="584" y="353">1-Phosphatidyl-1D-myo-inositol<tspan x="584" dy="6">3-phosphate</tspan></text></g>
<g id="pm2"><use href="#hx" class="m" x="660" y="357"/><text class="l" x="660" y="353">"1-phosphatidyl-myo-inositol<tspan x="660" dy="6">3,5-bisphosphate"</tspan></text></g>
<g id="pm3"><use href="#hx" class="m" x="556" y="380"/><text class="l" x="556" y="381.5">1-Phosphatidyl-D-myo-inositol</text></g>
<g id="pm4"><use href="#hx" class="m" x="687" y="383"/><text class="l" x="690" y="382">1-phosphatidyl-myo-inositol<tspan x="690" dy="5.5">5-phosphate</tspan></text></g>
<g id="pm5"><use href="#hx" class="x" x="585" y="405"/><text class="l" x="585" y="406.5">D-Galactose</text></g>
<g id="pm6"><use href="#hx" class="m" x="540" y="431"/><text class="l" x="540" y="432.5">myo-Inositol</text></g>
<g id="pm7"><use href="#hx" class="m" x="511" y="451"/><text class="l" x="511" y="452.5">1-alpha-D-Galactosyl-myo-inositol</text></g>
<g id="pm8"><use href="#hx" class="m" x="603" y="529"/><text class="l" x="594" y="531.5">"Phosphatidylinositol-3,4,5-trisphosphate"</text></g>
<g id="pm9"><use href="#hx" class="m" x="643" y="527"/><text class="l" x="652" y="522.5">1-Phosphatidyl-D-myo-inositol<tspan x="652" dy="5">4,5-bisphosphate"</tspan></text></g>
</g>

<!-- ===== Purine nodes ===== -->
<g id="pur-enz">
<g id="ue1"><use href="#sq" class="z" x="247" y="717"/><text class="l" x="247" y="718.5">Adenylate cyclase</text></g>
<g id="ue2"><use href="#sq" class="z" x="277" y="848"/><text class="l" x="277" y="846">"3',5'-cyclic-nucleotide<tspan x="277" dy="5.5">phosphodiesterase"</tspan></text></g>
<g id="ue3"><use href="#sq" class="z" x="203" y="837"/><text class="l" x="203" y="835">"3',5'-cyclic-GMP<tspan x="203" dy="5.5">phosphodiesterase"</tspan></text></g>
<g id="ue4"><use href="#sq" class="z" x="117" y="825"/><text class="l" x="117" y="823">Adenine<tspan x="117" dy="6">phosphoribosyltransferase</tspan></text></g>
<g id="ue5"><use href="#sq" class="z" x="107" y="851"/><text class="l" x="107" y="849">Hypoxanthine<tspan x="107" dy="5.5">phosphoribosyltransferase</tspan></text></g>
</g>
<g id="pur-genes">
<g id="ug1"><use href="#ci" class="g" x="249" y="679"/><text class="gl" x="249" y="680.3">ADCY1</text></g>
<g id="ug2"><use href="#ci" class="g" x="268" y="684"/><text class="gl" x="268" y="685.3">ADCY2</text></g>
<g id="ug3"><use href="#ci" class="g" x="228" y="686"/><text class="gl" x="228" y="687.3">ADCY8</text></g>
<g id="ug4"><use href="#ci" class="g" x="281" y="699"/><text class="gl" x="281" y="700.3">ADCY7</text></g>
<g id="ug5"><use href="#ci" class="g" x="214" y="705"/><text class="gl" x="214" y="706.3">ADCY4</text></g>
<g id="ug6"><use href="#ci" class="g" x="286" y="717"/><text class="gl" x="286" y="718.3">ADCY5</text></g>
<g id="ug7"><use href="#ci" class="g" x="223" y="734"/><text class="gl" x="223" y="735.3">ADCY6</text></g>
<g id="ug8"><use href="#ci" class="g" x="278" y="738"/><text class="gl" x="278" y="739.3">ADCY3</text></g>
<g id="ug9"><use href="#ci" class="g" x="258" y="749"/><text class="gl" x="258" y="750.3">ADCY9</text></g>
<g id="ug10"><use href="#ci" class="d" x="292" y="804"/><text class="gl" x="292" y="805.3">PDE4B</text></g>
<g id="ug11"><use href="#ci" class="g" x="260" y="807"/><text class="gl" x="260" y="808.3">PDE7B</text></g>
<g id="ug12"><use href="#ci" class="g" x="309" y="814"/><text class="gl" x="309" y="815.3">PDE4A</text></g>
<g id="ug13"><use href="#ci" class="g" x="242" y="818"/><text class="gl" x="242" y="819.3">PDE10A</text></g>
<g id="ug14"><use href="#ci" class="g" x="277" y="816"/><text class="gl" x="277" y="817.3">PDE4C</text></g>
<g id="ug15"><use href="#ci" class="g" x="293" y="824"/><text class="gl" x="293" y="825.3">PDE1B</text></g>
<g id="ug16"><use href="#ci" class="g" x="323" y="827"/><text class="gl" x="323" y="828.3">PDE7A</text></g>
<g id="ug17"><use href="#ci" class="g" x="235" y="835"/><text class="gl" x="235" y="836.3">PDE6H</text></g>
<g id="ug18"><use href="#ci" class="g" x="307" y="837"/><text class="gl" x="307" y="838.3">PDE9A</text></g>
<g id="ug19"><use href="#ci" class="g" x="243" y="847"/><text class="gl" x="243" y="848.3">PDE11A</text></g>
<g id="ug20"><use href="#ci" class="g" x="324" y="845"/><text class="gl" x="324" y="846.3">PDE3A</text></g>
<g id="ug21"><use href="#ci" class="g" x="307" y="857"/><text class="gl" x="307" y="858.3">PDE1C</text></g>
<g id="ug22"><use href="#ci" class="g" x="233" y="859"/><text class="gl" x="233" y="860.3">PDE5A</text></g>
<g id="ug23"><use href="#ci" class="g" x="325" y="864"/><text class="gl" x="325" y="865.3">PDE8B</text></g>
<g id="ug24"><use href="#ci" class="g" x="250" y="879"/><text class="gl" x="250" y="880.3">PDE8A</text></g>
<g id="ug25"><use href="#ci" class="g" x="266" y="873"/><text class="gl" x="266" y="874.3">PDE3B</text></g>
<g id="ug26"><use href="#ci" class="g" x="284" y="880"/><text class="gl" x="284" y="881.3">PDE2A</text></g>
<g id="ug27"><use href="#ci" class="g" x="302" y="874"/><text class="gl" x="302" y="875.3">PDE6G</text></g>
<g id="ug28"><use href="#ci" class="g" x="317" y="881"/><text class="gl" x="317" y="882.3">PDE1A</text></g>
<g id="ug29"><use href="#ci" class="g" x="263" y="893"/><text class="gl" x="263" y="894.3">PDE6D</text></g>
<g id="ug30"><use href="#ci" class="g" x="282" y="897"/><text class="gl" x="282" y="898.3">PDE11A</text></g>
<g id="ug31"><use href="#ci" class="d" x="300" y="893"/><text class="gl" x="300" y="894.3">PDE4D</text></g>
<g id="ug32"><use href="#ci" class="g" x="191" y="803"/><text class="gl" x="191" y="804.3">PDE6B</text></g>
<g id="ug33"><use href="#ci" class="g" x="172" y="818"/><text class="gl" x="172" y="819.3">PDE6A</text></g>
<g id="ug34"><use href="#ci" class="g" x="168" y="842"/><text class="gl" x="168" y="843.3">PDE6C</text></g>
<g id="ug35"><use href="#ci" class="g" x="87" y="808"/><text class="gl" x="87" y="809.3">APRT</text></g>
<g id="ug36"><use href="#ci" class="d" x="109" y="885"/><text class="gl" x="109" y="886.3">HPRT1</text></g>
</g>
<g id="pur-rx">
<g id="ur1"><use href="#dm" class="k" x="203" y="756"/><text class="o" x="203" y="757.4">R00089</text></g>
<g id="ur2"><use href="#dm" class="k" x="258" y="823"/><text class="o" x="258" y="824.4">R00191</text></g>
<g id="ur3"><use href="#dm" class="k" x="223" y="877"/><text class="o" x="223" y="878.4">R01234</text></g>
<g id="ur4"><use href="#dm" class="k" x="146" y="813"/><text class="o" x="146" y="814.4">R00190</text></g>
<g id="ur5"><use href="#dm" class="k" x="65" y="845"/><text class="o" x="65" y="846.4">R01132</text></g>
<g id="ur6"><use href="#dm" class="k" x="146" y="849"/><text class="o" x="146" y="850.4">R01229</text></g>
<g id="ur7"><use href="#dm" class="k" x="79" y="884"/><text class="o" x="79" y="885.4">R02142</text></g>
</g>
<g id="pur-met">
<g id="um1"><use href="#hx" class="m" x="228" y="778"/><text class="l" x="228" y="779.5">ATP</text></g>
<g id="um2"><use href="#hx" class="x" x="307" y="776"/><text class="l" x="307" y="777.5">"3',5'-Cyclic AMP"</text></g>
<g id="um3"><use href="#hx" class="m" x="200" y="857"/><text class="l" x="200" y="858.5">AMP</text></g>
<g id="um4"><use href="#hx" class="m" x="122" y="788"/><text class="l" x="122" y="789.5">Adenine</text></g>
<g id="um5"><use href="#hx" class="m" x="38" y="823"/><text class="l" x="38" y="824.5">IMP</text></g>
<g id="um6"><use href="#hx" class="m" x="31" y="855"/><text class="l" x="31" y="856.5">Hypoxanthine</text></g>
<g id="um7"><use href="#hx" class="m" x="153" y="883"/><text class="l" x="153" y="884.5">Guanine</text></g>
<g id="um8"><use href="#hx" class="m" x="49" y="898"/><text class="l" x="40" y="899.5">Xanthine</text></g>
<g id="um9"><use href="#hx" class="m" x="80" y="920"/><text class="l" x="78" y="921.5">Xanthosine 5'-phosphate</text></g>
<g id="um10"><use href="#hx" class="m" x="195" y="900"/><text class="l" x="195" y="901.5">GMP</text></g>
<g id="um11"><use href="#hx" class="m" x="233" y="905"/><text class="l" x="230" y="916">"3',5'-Cyclic GMP"</text></g>
</g>

<!-- ===== Urea cycle nodes ===== -->
<g id="urea-enz">
<g id="ve1"><use href="#sq" class="z" x="554" y="748"/><text class="l" x="554" y="749.5">Glutathione transferase</text></g>
<g id="ve2"><use href="#sq" class="z" x="490" y="833"/><text class="l" x="490" y="831">Glutathione-disulfide<tspan x="490" dy="6">reductase</tspan></text></g>
<g id="ve3"><use href="#sq" class="z" x="632" y="754"/><text class="l" x="632" y="755.5">Glycine amidinotransferase</text></g>
<g id="ve4"><use href="#sq" class="z" x="698" y="816"/><text class="l" x="698" y="817.5">Amidase</text></g>
<g id="ve5"><use href="#sq" class="z" x="632" y="827"/><text class="l" x="632" y="828.5">Nitric-oxide synthase</text></g>
</g>
<g id="urea-genes">
<g id="vg1"><use href="#ci" class="g" x="519" y="716"/><text class="gl" x="519" y="717.3">GSTM5</text></g>
<g id="vg2"><use href="#ci" class="g" x="533" y="712"/><text class="gl" x="533" y="713.3">GSTT1</text></g>
<g id="vg3"><use href="#ci" class="g" x="550" y="710"/><text class="gl" x="550" y="711.3">MGST3</text></g>
<g id="vg4"><use href="#ci" class="g" x="567" y="707"/><text class="gl" x="567" y="708.3">MGST2</text></g>
<g id="vg5"><use href="#ci" class="g" x="585" y="716"/><text class="gl" x="585" y="717.3">MGST1</text></g>
<g id="vg6"><use href="#ci" class="g" x="545" y="726"/><text class="gl" x="545" y="727.3">GSTA1</text></g>
<g id="vg7"><use href="#ci" class="g" x="563" y="723"/><text class="gl" x="563" y="724.3">GSTM3</text></g>
<g id="vg8"><use href="#ci" class="d" x="511" y="733"/><text class="gl" x="511" y="734.3">GSTM1</text></g>
<g id="vg9"><use href="#ci" class="g" x="528" y="733"/><text class="gl" x="528" y="734.3">GSTK1</text></g>
<g id="vg10"><use href="#ci" class="g" x="577" y="731"/><text class="gl" x="577" y="732.3">GSTM4</text></g>
<g id="vg11"><use href="#ci" class="g" x="593" y="734"/><text class="gl" x="593" y="735.3">GSTT2</text></g>
<g id="vg12"><use href="#ci" class="g" x="510" y="747"/><text class="gl" x="510" y="748.3">GSTA3</text></g>
<g id="vg13"><use href="#ci" class="d" x="527" y="748"/><text class="gl" x="527" y="749.3">GSTP1</text></g>
<g id="vg14"><use href="#ci" class="g" x="584" y="748"/><text class="gl" x="584" y="749.3">GSTO1</text></g>
<g id="vg15"><use href="#ci" class="g" x="509" y="765"/><text class="gl" x="509" y="766.3">GSTZ1</text></g>
<g id="vg16"><use href="#ci" class="g" x="537" y="767"/><text class="gl" x="537" y="768.3">GSTO2</text></g>
<g id="vg17"><use href="#ci" class="d" x="523" y="772"/><text class="gl" x="523" y="773.3">GSTM2</text></g>
<g id="vg18"><use href="#ci" class="g" x="562" y="773"/><text class="gl" x="562" y="774.3">GSTA2</text></g>
<g id="vg19"><use href="#ci" class="g" x="549" y="784"/><text class="gl" x="549" y="785.3">GSTA5</text></g>
<g id="vg20"><use href="#ci" class="g" x="533" y="787"/><text class="gl" x="533" y="788.3">GSTA4</text></g>
<g id="vg21"><use href="#ci" class="d" x="474" y="866"/><text class="gl" x="474" y="867.3">GSR</text></g>
<g id="vg22"><use href="#ci" class="g" x="590" y="787"/><text class="gl" x="590" y="788.3">GATM</text></g>
<g id="vg23"><use href="#ci" class="g" x="615" y="792"/><text class="gl" x="615" y="793.3">NOS1</text></g>
<g id="vg24"><circle cx="643" cy="794" r="9.5" class="ring"/><use href="#ci" class="d" x="643" y="794"/><text class="gl" x="643" y="795.3">NOS2</text></g>
<g id="vg25"><use href="#ci" class="g" x="598" y="812"/><text class="gl" x="598" y="813.3">NULL</text></g>
<g id="vg26"><use href="#ci" class="g" x="666" y="840"/><text class="gl" x="666" y="841.3">NULL</text></g>
<g id="vg27"><use href="#ci" class="g" x="645" y="860"/><text class="gl" x="645" y="861.3">NOS3</text></g>
<g id="vg28"><use href="#ci" class="g" x="687" y="849"/><text class="gl" x="687" y="850.3">FAAH2</text></g>
</g>
<g id="urea-rx">
<g id="vr1"><use href="#dm" class="k" x="500" y="794"/><text class="r" x="500" y="795.4">R00094</text></g>
<g id="vr2"><use href="#dm" class="k" x="512" y="807"/><text class="r" x="512" y="808.4">RE1151</text></g>
<g id="vr3"><use href="#dm" class="k" x="562" y="817"/><text class="r" x="562" y="818.4">R03522</text></g>
<g id="vr4"><use href="#dm" class="k" x="668" y="745"/><text class="r" x="668" y="746.4">R01990</text></g>
<g id="vr5"><use href="#dm" class="k" x="695" y="777"/><text class="o" x="695" y="778.4">R02110</text></g>
<g id="vr6"><use href="#dm" class="k" x="662" y="808"/><text class="o" x="662" y="809.4">R00111</text></g>
<g id="vr7"><use href="#dm" class="k" x="603" y="835"/><text class="o" x="603" y="836.4">R00556</text></g>
<g id="vr8"><use href="#dm" class="k" x="614" y="863"/><text class="o" x="614" y="864.4">R00557</text></g>
</g>
<g id="urea-met">
<g id="vm1"><use href="#hx" class="m" x="476" y="813"/><text class="l" x="476" y="814.5">Oxidized glutathione</text></g>
<g id="vm2"><use href="#hx" class="m" x="524" y="836"/><text class="l" x="524" y="837.5">RX</text></g>
<g id="vm3"><use href="#hx" class="m" x="546" y="853"/><text class="l" x="546" y="854.5">R-S-Glutathione</text></g>
<g id="vm4"><use href="#hx" class="m" x="513" y="868"/><text class="l" x="513" y="869.5">Glutathione</text></g>
<g id="vm5"><use href="#hx" class="m" x="670" y="713"/><text class="l" x="670" y="714.5">4-Aminobutanoate</text></g>
<g id="vm6"><use href="#hx" class="x" x="642" y="776"/><text class="l" x="642" y="777.5">4-Guanidinobutanoate</text></g>
<g id="vm7"><use href="#hx" class="m" x="741" y="777"/><text class="l" x="741" y="778.5">4-Guanidinobutanamide</text></g>
<g id="vm8"><use href="#hx" class="m" x="680" y="795"/><text class="l" x="680" y="796.5">Nitric oxide</text></g>
<g id="vm9"><use href="#hx" class="m" x="628" y="811"/><text class="l" x="628" y="812.5">N-omega-Hydroxy-L-arginine</text></g>
<g id="vm10"><use href="#hx" class="m" x="582" y="860"/><text class="l" x="582" y="861.5">L-Arginine</text></g>
<g id="vm11"><use href="#hx" class="m" x="610" y="897"/><text class="l" x="610" y="898.5">L-Citrulline</text></g>
</g>

<g id="titles">
<text class="t" x="185" y="278">Tyrosine metabolism</text>
<text class="t" x="592" y="278">Bile acid biosynthesis</text>
<text class="t" x="180" y="617">Androgen and estrogen biosynthesis and metabolism</text>
<text class="t" x="581" y="617">Phosphatidylinositol phosphate metabolism</text>
<text class="t" x="185" y="964">Purine metabolism</text>
<text class="t" x="594" y="940">Urea cycle and metabolism of arginine, proline,</text>
<text class="t" x="594" y="962">glutamate, aspartate and asparagine</text>
</g>
</svg>
